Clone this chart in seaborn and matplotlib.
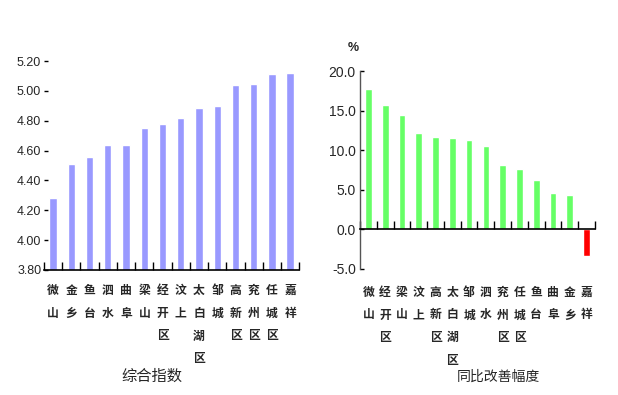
import numpy as np
import pandas as pd
import matplotlib
matplotlib.use("Agg")
import matplotlib.pyplot as plt
import seaborn as sns
from matplotlib.ticker import FormatStrFormatter

# ---------------- data ----------------
left_regions = ["微山", "金乡", "鱼台", "泗水", "曲阜", "梁山", "经开区", "汶上",
                "太白湖区", "邹城", "高新区", "兖州区", "任城区", "嘉祥"]
left_values = [4.28, 4.51, 4.555, 4.635, 4.64, 4.75, 4.78, 4.82,
               4.885, 4.90, 5.04, 5.045, 5.11, 5.12]
left_yticks = [3.80, 4.00, 4.20, 4.40, 4.60, 4.80, 5.00, 5.20]
left_xlabel = "综合指数"

right_regions = ["微山", "经开区", "梁山", "汶上", "高新区", "太白湖区", "邹城",
                 "泗水", "兖州区", "任城区", "鱼台", "曲阜", "金乡", "嘉祥"]
right_values = [17.7, 15.7, 14.4, 12.2, 11.7, 11.6, 11.3,
                10.6, 8.1, 7.6, 6.3, 4.65, 4.4, -3.4]
right_yticks = [-5.0, 0.0, 5.0, 10.0, 15.0, 20.0]
right_xlabel = "同比改善幅度"
right_unit = "%"

# ---------------- style ----------------
sns.set_theme(style="white")
plt.rcParams["font.family"] = ["Noto Sans CJK SC", "DejaVu Sans"]
num_font = ["Liberation Sans Narrow", "Liberation Sans", "DejaVu Sans"]

fig = plt.figure(figsize=(6.18, 3.95), dpi=100)
axL = fig.add_axes([0.0712, 0.3165, 0.413, 0.529])
axR = fig.add_axes([0.5825, 0.319, 0.3803, 0.501])


def style_xlabels(ax):
    for lab in ax.get_xticklabels():
        lab.set_fontsize(8.5)
        lab.set_fontweight("bold")
        lab.set_linespacing(1.98)
        lab.set_verticalalignment("top")


# ---------------- left chart ----------------
dfL = pd.DataFrame({"region": left_regions, "value": left_values})
sns.barplot(data=dfL, x="region", y="value", order=left_regions,
            color="#9999FF", saturation=1, width=0.4, ax=axL)
n = len(left_regions)
axL.set_xlim(-0.5, n - 0.5)
axL.set_ylim(left_yticks[0], left_yticks[-1])
axL.set_yticks(left_yticks)
axL.yaxis.set_major_formatter(FormatStrFormatter("%.2f"))
axL.set_xticks(range(n))
axL.set_xticklabels(["\n".join(r) for r in left_regions])
axL.set_xticks(np.arange(n + 1) - 0.5, minor=True)
for s in ["top", "right", "left"]:
    axL.spines[s].set_visible(False)
axL.spines["bottom"].set_color("black")
axL.spines["bottom"].set_linewidth(1.2)
axL.tick_params(axis="x", which="major", length=0, pad=10)
axL.tick_params(axis="x", which="minor", bottom=True, direction="in",
                length=6, width=1, color="black")
axL.tick_params(axis="y", left=True, direction="in", length=3, width=1,
                color="black", pad=2)
style_xlabels(axL)
for lab in axL.get_yticklabels():
    lab.set_family(num_font)
    lab.set_fontsize(9)
axL.set_xlabel("")
axL.set_ylabel("")

# ---------------- right chart ----------------
dfR = pd.DataFrame({"region": right_regions, "value": right_values,
                    "sign": ["pos" if v >= 0 else "neg" for v in right_values]})
sns.barplot(data=dfR, x="region", y="value", order=right_regions,
            hue="sign", palette={"pos": "#66FF66", "neg": "#FF0000"},
            saturation=1, width=0.4, dodge=False, legend=False, ax=axR)
n2 = len(right_regions)
axR.set_xlim(-0.5, n2 - 0.5)
axR.set_ylim(right_yticks[0], right_yticks[-1])
axR.set_yticks(right_yticks)
axR.yaxis.set_major_formatter(FormatStrFormatter("%.1f"))
axR.set_xticks(range(n2))
axR.set_xticklabels(["\n".join(r) for r in right_regions])
axR.set_xticks(np.arange(n2 + 1) - 0.5, minor=True)
axR.spines["right"].set_visible(False)
axR.spines["bottom"].set_visible(False)
axR.spines["top"].set_position(("data", 0))
axR.spines["top"].set_color("black")
axR.spines["top"].set_linewidth(1.2)
axR.spines["left"].set_color("#555555")
axR.spines["left"].set_linewidth(1)
axR.tick_params(axis="x", which="major", bottom=True, top=False, length=0,
                labelbottom=True, labeltop=False, pad=12)
axR.tick_params(axis="x", which="minor", bottom=False, top=True,
                direction="out", length=6, width=1, color="black")
axR.tick_params(axis="y", left=True, direction="in", length=3, width=1,
                color="black", pad=3)
style_xlabels(axR)
for lab in axR.get_yticklabels():
    lab.set_family(num_font)
    lab.set_fontsize(10)
axR.set_xlabel("")
axR.set_ylabel("")

fig.text(0.571, 0.878, right_unit, ha="center", va="center",
         fontsize=9, fontweight="bold", family=num_font)
fig.text(0.246, 0.048, left_xlabel, ha="center", va="center", fontsize=11)
fig.text(0.806, 0.045, right_xlabel, ha="center", va="center", fontsize=10)

fig.savefig("out.png", dpi=100, facecolor="white")
